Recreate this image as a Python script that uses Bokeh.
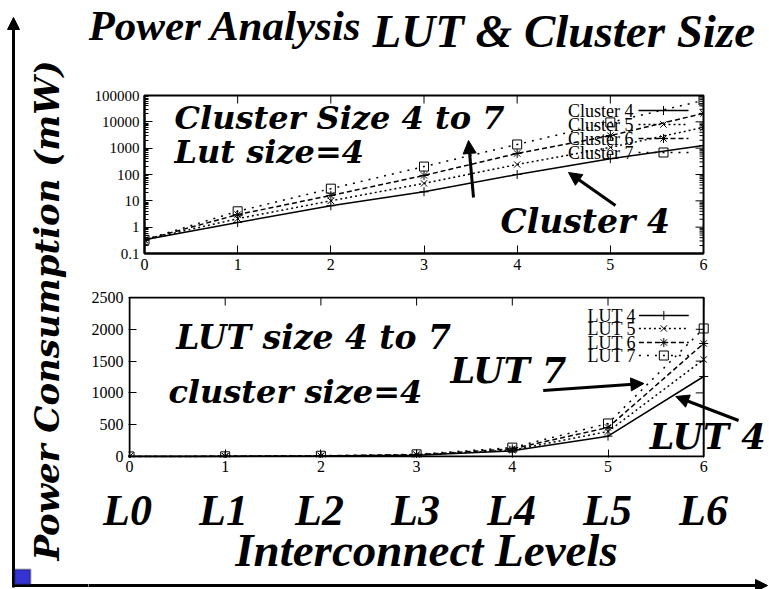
import math
from bokeh.plotting import figure
from bokeh.layouts import row, column
from bokeh.models import (Range1d, FixedTicker, Label, LabelSet,
                          Arrow, NormalHead, ColumnDataSource, BoxAnnotation)
from bokeh.core.properties import value
from bokeh.embed import file_html
from bokeh.resources import INLINE

# ---------------- data ----------------
levels = [0, 1, 2, 3, 4, 5, 6]
level_labels = ["L0", "L1", "L2", "L3", "L4", "L5", "L6"]

cluster_names = ["Cluster 4", "Cluster 5", "Cluster 6", "Cluster 7"]
cluster4 = [0.33, 1.5, 6.5, 22, 100, 400, 1260]
cluster5 = [0.33, 2.1, 10, 46, 240, 1070, 6150]
cluster6 = [0.33, 3.0, 16, 92, 630, 3000, 21000]
cluster7 = [0.33, 4.0, 29, 200, 1380, 9500, 65000]

lut_names = ["LUT 4", "LUT 5", "LUT 6", "LUT 7"]
lut4 = [0.33, 1.5, 6, 20, 90, 320, 1258]
lut5 = [0.33, 2.0, 8, 24, 100, 393, 1525]
lut6 = [0.33, 2.5, 10, 28, 120, 456, 1777]
lut7 = [0.33, 3.0, 12, 34, 140, 519, 2013]

top_yticks = [0.1, 1, 10, 100, 1000, 10000, 100000]
top_ytick_labels = ["0.1", "1", "10", "100", "1000", "10000", "100000"]
bot_yticks = [0, 500, 1000, 1500, 2000, 2500]

# ---------------- styles / geometry ----------------
dashes = ["solid", "2 3", "5 3", "2 6"]
markers = ["cross", "x", "asterisk", "square"]
SERIF = "Liberation Serif"
HEAVY = "DejaVu Serif"

W, H = 769, 589
LW = 88                      # left strip width
Y_TITLE, Y_TOP, Y_BOT, Y_LOW = 0, 80, 285, 482   # row boundaries (page px)
TOP_L, TOP_R, TOP_T, TOP_B = 144, 703, 95, 253
BOT_L, BOT_R, BOT_T, BOT_B = 127, 703, 297, 456
TICK, MINOR = 8, 4
ARROW_Y = 585


def tx(px):
    return (px - TOP_L) / (TOP_R - TOP_L) * 6


def ty(py):
    return 10 ** (-1 + (TOP_B - py) / (TOP_B - TOP_T) * 6)


def bx(px):
    return (px - BOT_L) / (BOT_R - BOT_L) * 6


def by(py):
    return (BOT_B - py) / (BOT_B - BOT_T) * 2500


def style_axis(ax, standoff=6, line=True, size="16px"):
    ax.axis_line_width = 2
    ax.axis_line_color = "black" if line else None
    ax.major_tick_in = TICK
    ax.major_tick_out = 0
    ax.minor_tick_in = MINOR
    ax.minor_tick_out = 0
    ax.major_tick_line_color = "black"
    ax.minor_tick_line_color = "black"
    ax.major_label_text_font = SERIF
    ax.major_label_text_font_size = size
    ax.major_label_text_color = "black"
    ax.major_label_standoff = standoff


def text_at(p, x, y, text, font, size, align="left", style="bold italic"):
    src = ColumnDataSource(dict(x=[x], y=[y], text=[text]))
    p.add_layout(LabelSet(x="x", y="y", text="text", source=src, text_font=value(font),
                          text_font_style=style, text_font_size=size, text_align=align,
                          text_baseline="alphabetic", text_color="black"))


def arrow(p, x0, y0, x1, y1, size=13):
    p.add_layout(Arrow(x_start=x0, y_start=y0, x_end=x1, y_end=y1, line_width=3,
                       line_color="black",
                       end=NormalHead(size=size, fill_color="black", line_color="black",
                                      line_width=1)))


def canvas(width, height, xr, yr):
    p = figure(width=width, height=height, x_range=xr, y_range=yr, x_axis_type=None,
               y_axis_type=None, output_backend="svg", toolbar_location=None, min_border=0,
               outline_line_color=None, frame_align=False)
    p.grid.visible = False
    return p


# ---------------- left strip ----------------
left = canvas(LW, H, Range1d(0, LW), Range1d(H, 0))
left.add_layout(Arrow(x_start=13, y_start=587, x_end=13, y_end=17, line_width=3,
                      line_color="black",
                      end=NormalHead(size=12, fill_color="black", line_color="black")))
left.segment(x0=[12], y0=[ARROW_Y], x1=[LW], y1=[ARROW_Y], line_width=3, line_color="black")
left.add_layout(BoxAnnotation(left=14, right=30, top=569, bottom=584, fill_color="#3434d2",
                              fill_alpha=1, line_color="black", line_width=2))
left.add_layout(Label(x=46, y=310, text="Power Consumption (mW)", angle=math.pi / 2,
                      text_font=HEAVY, text_font_style="bold italic", text_font_size="34px",
                      text_align="center", text_baseline="middle", text_color="black"))

# ---------------- title strip ----------------
title = canvas(W - LW, Y_TOP - Y_TITLE, Range1d(LW, W), Range1d(Y_TOP, Y_TITLE))
text_at(title, 88, 39, "Power Analysis", SERIF, "43px")
text_at(title, 372, 46, "LUT & Cluster Size", SERIF, "47px")

# ---------------- top plot (log) ----------------
top = figure(width=W - LW, height=Y_BOT - Y_TOP, x_range=Range1d(0, 6),
             y_range=Range1d(0.1, 100000), y_axis_type="log", output_backend="svg",
             toolbar_location=None, frame_align=False,
             min_border_left=TOP_L - LW, min_border_right=W - TOP_R,
             min_border_top=TOP_T - Y_TOP, min_border_bottom=Y_BOT - TOP_B,
             outline_line_color="black", outline_line_width=2)
top.grid.visible = False
minor_log = [m * 10 ** e for e in range(-1, 5) for m in range(2, 10)]
top.xaxis.ticker = FixedTicker(ticks=levels)
top.yaxis.ticker = FixedTicker(ticks=top_yticks, minor_ticks=minor_log)
top.yaxis.major_label_overrides = dict(zip(top_yticks, top_ytick_labels))
style_axis(top.xaxis[0], standoff=5)
style_axis(top.yaxis[0], standoff=5, size="15px")

px_x = 6 / (TOP_R - TOP_L)
dec = 6 / (TOP_B - TOP_T)
top.segment(x0=levels, y0=[100000] * 7, x1=levels, y1=[10 ** (5 - TICK * dec)] * 7,
            line_color="black", line_width=1)
top.segment(x0=[6] * 7, y0=top_yticks, x1=[6 - TICK * px_x] * 7, y1=top_yticks,
            line_color="black", line_width=1)
top.segment(x0=[6] * len(minor_log), y0=minor_log, x1=[6 - MINOR * px_x] * len(minor_log),
            y1=minor_log, line_color="black", line_width=1)

for vals, dash, mk in zip([cluster4, cluster5, cluster6, cluster7], dashes, markers):
    top.line(levels, vals, line_dash=dash, line_width=1.5, line_color="black")
    top.scatter(levels, vals, marker=mk, size=9, line_color="black", fill_color=None,
                line_width=1)

for i, (name, dash, mk) in enumerate(zip(cluster_names, dashes, markers)):
    ry = [110, 124, 138, 152][i]
    top.add_layout(Label(x=tx(633), y=ty(ry), text=name, text_font=SERIF, text_font_size="18px",
                         text_align="right", text_baseline="middle", text_color="black"))
    top.line([tx(638), tx(688)], [ty(ry), ty(ry)], line_dash=dash, line_width=1.5,
             line_color="black")
    top.scatter([tx(663)], [ty(ry)], marker=mk, size=9, line_color="black", fill_color=None)

text_at(top, tx(174), ty(128), "Cluster Size 4 to 7", HEAVY, "32px")
text_at(top, tx(174), ty(162), "Lut size=4", HEAVY, "32px")
text_at(top, tx(500), ty(232), "Cluster 4", HEAVY, "33px")
arrow(top, tx(473), ty(197), tx(468), ty(140))
arrow(top, tx(615), ty(205), tx(568), ty(172))

# ---------------- bottom plot (linear) ----------------
# frame is padded by 1px round the plot box and runs to the right page edge
bot = figure(width=W - LW, height=Y_LOW - Y_BOT,
             x_range=Range1d(bx(BOT_L - 1), bx(W)),
             y_range=Range1d(by(BOT_B + 1), by(BOT_T - 1)),
             output_backend="svg", toolbar_location=None, frame_align=False,
             min_border_left=BOT_L - 1 - LW, min_border_right=0,
             min_border_top=BOT_T - 1 - Y_BOT, min_border_bottom=Y_LOW - BOT_B - 1,
             outline_line_color=None)
bot.grid.visible = False
bot.xaxis.ticker = FixedTicker(ticks=levels)
bot.yaxis.ticker = FixedTicker(ticks=bot_yticks)
style_axis(bot.xaxis[0], standoff=3, line=False)
style_axis(bot.yaxis[0], standoff=5, line=False)
bot.quad(left=[levels[0]], right=[levels[-1]], bottom=[bot_yticks[0]], top=[bot_yticks[-1]],
         fill_color=None, line_color="black", line_width=2)

bpx_x = 6 / (BOT_R - BOT_L)
bpx_y = 2500 / (BOT_B - BOT_T)
bot.segment(x0=levels, y0=[2500] * 7, x1=levels, y1=[2500 - TICK * bpx_y] * 7,
            line_color="black", line_width=1)
bot.segment(x0=[6] * 6, y0=bot_yticks, x1=[6 - TICK * bpx_x] * 6, y1=bot_yticks,
            line_color="black", line_width=1)

for vals, dash, mk in zip([lut4, lut5, lut6, lut7], dashes, markers):
    bot.line(levels, vals, line_dash=dash, line_width=1.5, line_color="black")
    bot.scatter(levels, vals, marker=mk, size=9, line_color="black", fill_color=None,
                line_width=1)

for i, (name, dash, mk) in enumerate(zip(lut_names, dashes, markers)):
    ry = [315, 328, 342, 355][i]
    bot.add_layout(Label(x=bx(635), y=by(ry), text=name, text_font=SERIF, text_font_size="18px",
                         text_align="right", text_baseline="middle", text_color="black"))
    bot.line([bx(638), bx(688)], [by(ry), by(ry)], line_dash=dash, line_width=1.5,
             line_color="black")
    bot.scatter([bx(663)], [by(ry)], marker=mk, size=9, line_color="black", fill_color=None)

text_at(bot, bx(174), by(348), "LUT size 4 to 7", HEAVY, "33px")
text_at(bot, bx(166), by(402), "cluster size=4", HEAVY, "32px")
text_at(bot, bx(449), by(382), "LUT 7", HEAVY, "35px")
text_at(bot, bx(649), by(448), "LUT 4", HEAVY, "35px")
arrow(bot, bx(542), by(390), bx(643), by(383))
arrow(bot, bx(738), by(420), bx(675), by(396))

# ---------------- bottom strip: level names, x title, x arrow ----------------
low = canvas(W - LW, H - Y_LOW, Range1d(bx(LW), bx(W)), Range1d(H, Y_LOW))
lsrc = ColumnDataSource(dict(x=levels, y=[524] * len(levels), text=level_labels))
low.add_layout(LabelSet(x="x", y="y", text="text", source=lsrc, text_font=value(SERIF),
                        text_font_style="bold italic", text_font_size="44px",
                        text_align="center", text_baseline="alphabetic", text_color="black"))
text_at(low, bx(426), 565, "Interconnect Levels", SERIF, "47px", align="center")
low.add_layout(Arrow(x_start=bx(LW - 2), y_start=ARROW_Y, x_end=bx(767), y_end=ARROW_Y,
                     line_width=3, line_color="black",
                     end=NormalHead(size=12, fill_color="black", line_color="black")))

layout = row(left, column(title, top, bot, low))
open("out.html", "w").write(file_html(layout, INLINE))
